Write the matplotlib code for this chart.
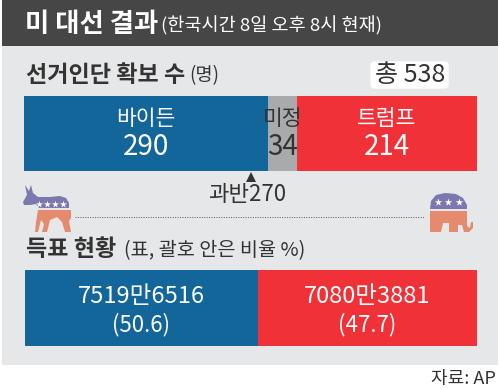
import matplotlib
matplotlib.use('Agg')
import matplotlib.pyplot as plt
from matplotlib.patches import Rectangle, FancyBboxPatch, Polygon

plt.rcParams['font.family'] = ['Noto Sans CJK KR', 'DejaVu Sans']

# data
elector_labels = ['바이든', '미정', '트럼프']
elector_values = [290, 34, 214]
elector_colors = ['#12669a', '#a9aaac', '#f03238']
elector_text = ['white', '#333333', 'white']
total_electors = 538
majority = 270

vote_values = [75196516, 70803881]
vote_labels = ['7519만6516', '7080만3881']
vote_shares = ['(50.6)', '(47.7)']
vote_colors = ['#12669a', '#f03238']

W, H = 500, 389
fig = plt.figure(figsize=(W / 100, H / 100), dpi=100, facecolor='white')

# pixel canvas for the furniture
bg = fig.add_axes([0, 0, 1, 1])
bg.set_xlim(0, W)
bg.set_ylim(H, 0)
bg.axis('off')
bg.add_patch(Rectangle((2, 0), 496, 365, color='#e6e7e9', lw=0))
bg.add_patch(Rectangle((2, 0), 496, 46, color='#464646', lw=0))

bg.text(25, 24, '미 대선 결과', color='white', fontsize=19, fontweight='bold', va='center')
bg.text(161, 26, '(한국시간 8일 오후 8시 현재)', color='white', fontsize=13.4, va='center')
bg.text(26, 75, '선거인단 확보 수', color='#333333', fontsize=16.6, fontweight='bold', va='center')
bg.text(189, 76, '(명)', color='#333333', fontsize=13.5, va='center')
bg.add_patch(FancyBboxPatch((371, 62), 77, 26, boxstyle='round,pad=0,rounding_size=4',
                            fc='white', ec='white', lw=1))
bg.text(410, 75, f'총 {total_electors}', color='#333333', fontsize=18, fontweight='medium',
        va='center', ha='center')

bg.text(26, 250, '득표 현황', color='#333333', fontsize=16.6, fontweight='bold', va='center')
bg.text(124, 251, '(표, 괄호 안은 비율 %)', color='#333333', fontsize=14.2, va='center')
bg.text(496, 379, '자료: AP', color='#333333', fontsize=13, va='center', ha='right')
bg.text(247, 194, f'과반{majority}', color='#333333', fontsize=16, va='center', ha='center')
bg.plot([75, 424], [217, 217], color='#555555', lw=0.7, ls=(0, (1, 1.5)))

# donkey and elephant icons
purple = '#7a78ae'
orange = '#e58a6c'
bg.add_patch(Polygon([(25, 185), (29, 191), (31, 185), (33, 193), (38, 197), (50, 197), (60, 196),
                      (66, 198), (69, 203), (69, 208), (39, 208), (36, 204), (30, 205), (24, 205),
                      (23, 202), (27, 195)], fc=purple, ec='none'))
bg.add_patch(Polygon([(38, 210), (71, 210), (71, 218), (69, 221), (71, 232), (65, 232), (62, 222),
                      (57, 217), (50, 220), (47, 232), (42, 232), (44, 224), (41, 220), (38, 232),
                      (35, 232), (36, 222)], fc=orange, ec='none'))
bg.add_patch(Polygon([(430, 209), (431, 201), (436, 195), (445, 193), (456, 194), (463, 198),
                      (467, 205), (467, 209)], fc=purple, ec='none'))
bg.add_patch(Polygon([(430, 211), (467, 211), (467, 226), (470, 228), (471, 222), (473, 222),
                      (473, 228), (469, 232), (464, 232), (462, 225), (458, 225), (458, 232),
                      (449, 232), (449, 223), (443, 223), (441, 232), (430, 232)], fc=orange, ec='none'))
bg.scatter([39, 47, 55, 63], [204, 204, 204, 204], marker='*', s=28, color='white', lw=0)
bg.scatter([438, 448, 459], [202, 202, 202], marker='*', s=32, color='white', lw=0)

# electoral votes bar
ax1 = fig.add_axes([24 / W, 1 - 171 / H, 453 / W, 75 / H])
ax1.set_xlim(0, total_electors)
ax1.set_ylim(0, 1)
ax1.axis('off')
left = 0
for lab, val, col, tc in zip(elector_labels, elector_values, elector_colors, elector_text):
    ax1.barh(0.5, val, left=left, height=1, color=col, lw=0)
    ax1.text(left + val / 2, 0.69, lab, color=tc, fontsize=15.5, ha='center', va='center')
    ax1.text(left + val / 2, 0.32, str(val), color=tc, fontsize=20, fontweight='medium',
             ha='center', va='center')
    left += val
ax1.plot([majority], [-0.08], marker='^', color='#333333', ms=7.5, mew=0, clip_on=False)

# popular vote bar
ax2 = fig.add_axes([25 / W, 1 - 346 / H, 452 / W, 76 / H])
ax2.set_xlim(0, sum(vote_values))
ax2.set_ylim(0, 1)
ax2.axis('off')
left = 0
for val, lab, share, col in zip(vote_values, vote_labels, vote_shares, vote_colors):
    ax2.barh(0.5, val, left=left, height=1, color=col, lw=0)
    ax2.text(left + val / 2, 0.65, lab, color='white', fontsize=17, fontweight='medium',
             ha='center', va='center')
    ax2.text(left + val / 2, 0.28, share, color='white', fontsize=16, ha='center', va='center')
    left += val

fig.savefig('out.png', dpi=100)
